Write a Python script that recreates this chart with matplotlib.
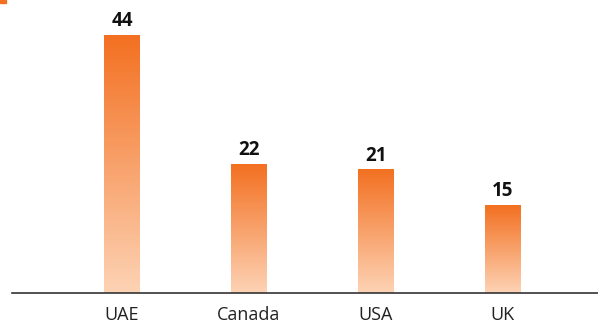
import numpy as np
import matplotlib.pyplot as plt
from matplotlib.colors import LinearSegmentedColormap
from matplotlib.patches import Rectangle

countries = ["UAE", "Canada", "USA", "UK"]
values = [44, 22, 21, 15]

plt.rcParams["font.family"] = ["Open Sans", "DejaVu Sans"]

fig = plt.figure(figsize=(5.98, 3.27), dpi=100)
ax = fig.add_axes([12 / 598, 1 - 293 / 327, 586 / 598, 293 / 327])

cmap = LinearSegmentedColormap.from_list("bar", ["#fdd3b5", "#f37021"])
grad = np.linspace(0, 1, 256).reshape(-1, 1)
width = 0.28

x = np.arange(len(countries))
for xi, v in zip(x, values):
    ax.imshow(grad, cmap=cmap, origin="lower", aspect="auto",
              extent=[xi - width / 2, xi + width / 2, 0, v], zorder=2)
    ax.text(xi, v + 1.55, str(v), ha="center", va="baseline",
            fontsize=13.5, fontweight="bold", color="#111111")

ax.set_xlim(-0.866, 3.75)
ax.set_ylim(0, 50)
ax.set_xticks(x)
ax.set_xticklabels(countries, fontsize=13, color="#222222")
ax.tick_params(axis="x", length=0, pad=9)
ax.set_yticks([])
for s in ["top", "right", "left"]:
    ax.spines[s].set_visible(False)
ax.spines["bottom"].set_color("#333333")
ax.spines["bottom"].set_linewidth(1.2)

# small accent mark in the top-left corner
fig.patches.append(Rectangle((0, 1 - 3 / 327), 6 / 598, 3 / 327,
                             transform=fig.transFigure, color="#f37021"))

fig.savefig("out.png", dpi=100)
